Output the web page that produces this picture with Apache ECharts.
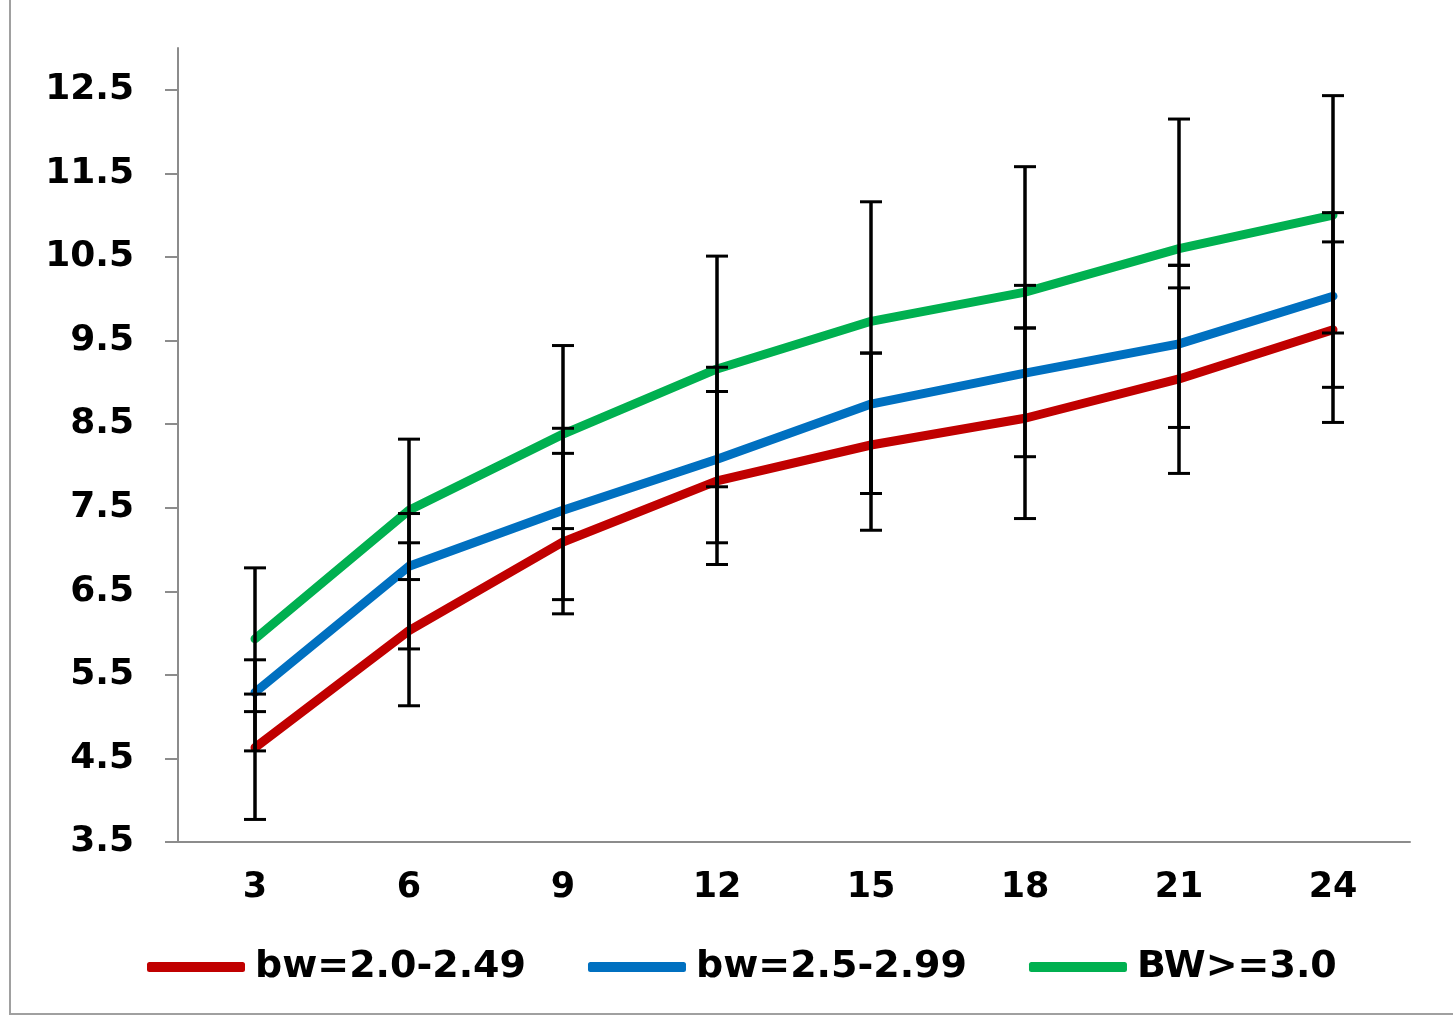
<!DOCTYPE html>
<html>
<head>
<meta charset="utf-8">
<title>bw chart</title>
<script src="https://cdn.jsdelivr.net/npm/echarts@6/dist/echarts.min.js"></script>
<style>
  html, body { margin: 0; padding: 0; background: #fff; }
  #chart { width: 1453px; height: 1016px; }
</style>
</head>
<body>
<div id="chart"></div>
<script>
// months
var categories = ['3', '6', '9', '12', '15', '18', '21', '24']
var yTicks = [3.5, 4.5, 5.5, 6.5, 7.5, 8.5, 9.5, 10.5, 11.5, 12.5]

var seriesNames = ['bw=2.0-2.49', 'bw=2.5-2.99', 'BW>=3.0']
var redValues = [4.63, 6.03, 7.09, 7.82, 8.25, 8.57, 9.04, 9.63]
var blueValues = [5.29, 6.80, 7.47, 8.08, 8.74, 9.11, 9.46, 10.03]
var greenValues = [5.93, 7.47, 8.38, 9.16, 9.73, 10.08, 10.60, 11.00]

// error bar ends (high / low)
var redHigh = [5.27, 7.08, 8.15, 8.89, 9.35, 9.65, 10.13, 10.68]
var redLow = [3.77, 5.13, 6.23, 6.82, 7.23, 7.37, 7.91, 8.52]
var blueHigh = [5.68, 7.43, 8.45, 9.18, 9.35, 10.16, 10.40, 11.03]
var blueLow = [4.59, 5.81, 6.40, 7.08, 7.67, 8.11, 8.46, 8.94]
var greenHigh = [6.78, 8.32, 9.44, 10.51, 11.16, 11.58, 12.15, 12.43]
var greenLow = [5.06, 6.64, 7.25, 7.75, 7.67, 9.65, 10.40, 9.59]

var colors = ['#C00000', '#0070C0', '#00B050']
var font = 'DejaVu Sans'

function errorData(high, low) {
  return categories.map(function (c, i) {
    return [i, low[i], high[i]]
  })
}

function renderErrorBar(params, api) {
  var lowPt = api.coord([api.value(0), api.value(1)])
  var highPt = api.coord([api.value(0), api.value(2)])
  var half = 11
  var style = { stroke: '#000', lineWidth: 3.5 }
  var capStyle = { stroke: '#000', lineWidth: 3 }
  return {
    type: 'group',
    children: [
      { type: 'line', shape: { x1: highPt[0], y1: highPt[1], x2: lowPt[0], y2: lowPt[1] }, style: style },
      { type: 'line', shape: { x1: highPt[0] - half, y1: highPt[1], x2: highPt[0] + half, y2: highPt[1] }, style: capStyle },
      { type: 'line', shape: { x1: lowPt[0] - half, y1: lowPt[1], x2: lowPt[0] + half, y2: lowPt[1] }, style: capStyle }
    ]
  }
}

function lineSeries(name, values, color) {
  return {
    name: name,
    type: 'line',
    data: values,
    symbol: 'none',
    z: 2,
    lineStyle: { color: color, width: 9, cap: 'round', join: 'round' },
    itemStyle: { color: color }
  }
}

function errorSeries(high, low) {
  return {
    type: 'custom',
    renderItem: renderErrorBar,
    data: errorData(high, low),
    encode: { x: 0, y: [1, 2] },
    z: 3,
    silent: true
  }
}

var chart = echarts.init(document.getElementById('chart'))
chart.setOption({
  backgroundColor: '#fff',
  animation: false,
  grid: { left: 178, right: 43, top: 48, bottom: 174 },
  graphic: [{
    type: 'rect',
    shape: { x: 10, y: -10, width: 1460, height: 1024 },
    style: { fill: 'none', stroke: '#a0a0a0', lineWidth: 2 }
  }],
  legend: {
    data: seriesNames,
    left: 142,
    top: 943,
    icon: 'roundRect',
    itemWidth: 98,
    itemHeight: 10,
    itemGap: 62,
    textStyle: {
      fontFamily: font, fontWeight: 'bold', fontSize: 38, color: '#000',
      padding: [0, 0, 0, 5]
    }
  },
  xAxis: {
    type: 'category',
    data: categories,
    axisLine: { lineStyle: { color: '#8c8c8c', width: 2 } },
    axisTick: { length: 10, lineStyle: { color: '#8c8c8c', width: 2 } },
    axisLabel: { margin: 28, fontFamily: font, fontWeight: 'bold', fontSize: 35, color: '#000' }
  },
  yAxis: {
    type: 'value',
    min: 3.5,
    max: 13,
    interval: 1,
    splitLine: { show: false },
    axisLine: { show: true, lineStyle: { color: '#8c8c8c', width: 2 } },
    axisTick: { show: true, length: 13, customValues: yTicks, lineStyle: { color: '#8c8c8c', width: 2 } },
    axisLabel: {
      margin: 44,
      customValues: yTicks,
      formatter: function (v) { return v.toFixed(1) },
      fontFamily: font,
      fontWeight: 'bold',
      fontSize: 36,
      color: '#000'
    }
  },
  series: [
    lineSeries(seriesNames[0], redValues, colors[0]),
    lineSeries(seriesNames[1], blueValues, colors[1]),
    lineSeries(seriesNames[2], greenValues, colors[2]),
    errorSeries(redHigh, redLow),
    errorSeries(blueHigh, blueLow),
    errorSeries(greenHigh, greenLow)
  ]
})
</script>
</body>
</html>
